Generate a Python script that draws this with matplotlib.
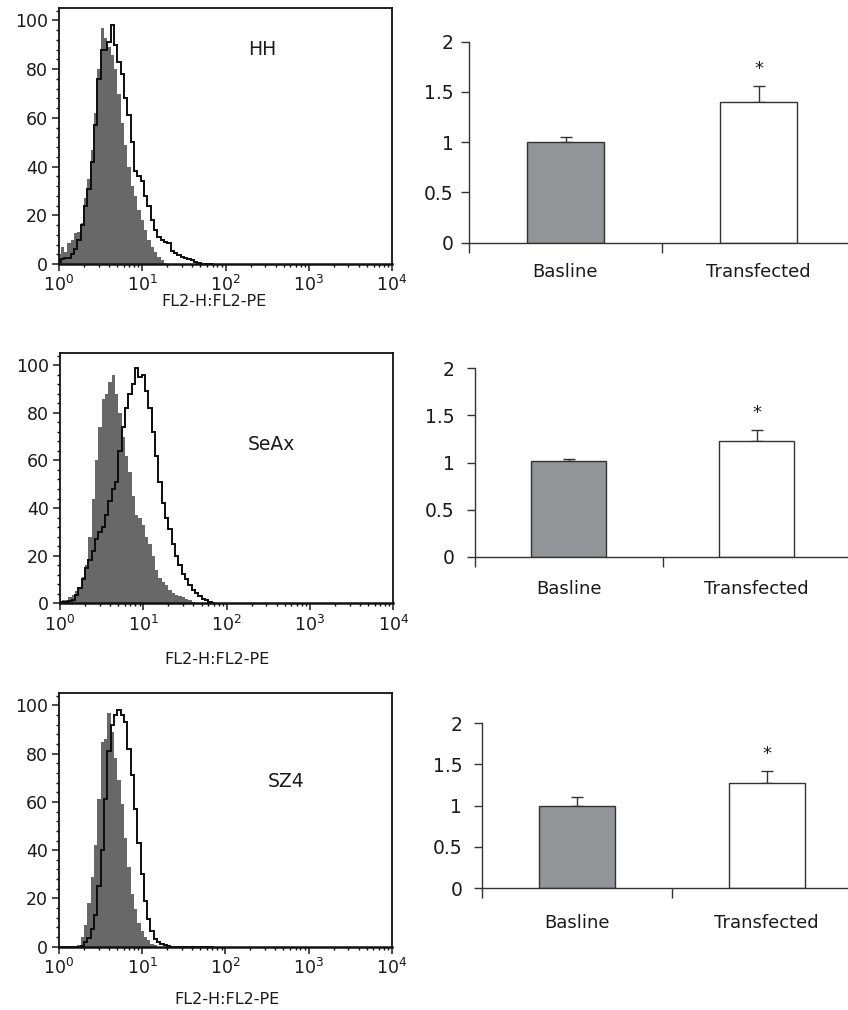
import numpy as np
import matplotlib
matplotlib.use("Agg")
import matplotlib.pyplot as plt
from matplotlib.ticker import FixedLocator, MultipleLocator, NullFormatter

plt.rcParams['font.family'] = ['DejaVu Sans']
plt.rcParams['mathtext.fontset'] = 'dejavusans'

# ---------------- data ----------------
# FL2-H channels (log10 of fluorescence)
channels = [0.00, 0.04, 0.08, 0.12, 0.16, 0.20, 0.24, 0.28, 0.32, 0.36,
            0.40, 0.44, 0.48, 0.52, 0.56, 0.60, 0.64, 0.68, 0.72, 0.76,
            0.80, 0.84, 0.88, 0.92, 0.96, 1.00, 1.04, 1.08, 1.12, 1.16,
            1.20, 1.24, 1.28, 1.32, 1.36, 1.40, 1.44, 1.48, 1.52, 1.56,
            1.60, 1.64, 1.68, 1.72, 1.76, 1.80, 1.84]

hh_baseline = [4, 7, 5, 8.5, 10, 12.6, 13, 17, 27, 35,
               47, 62, 80, 97, 93, 89, 86, 80, 70, 58,
               49, 40, 32, 28, 22, 18, 14, 10, 7, 5,
               3, 1.6, 0.5, 0, 0, 0, 0, 0, 0, 0,
               0, 0, 0, 0, 0, 0, 0]
hh_transfected = [1, 2, 2.3, 2.5, 4, 6, 10, 16, 24, 31,
                  42, 57, 76, 88, 88, 91, 98, 90, 83, 78,
                  68, 61, 50, 38, 36, 34, 28, 24, 18, 14,
                  11, 10, 9, 8.5, 5.5, 4.5, 3.5, 2.8, 2.3, 2,
                  1.5, 0.8, 0.3, 0, 0, 0, 0]

seax_baseline = [0.5, 1.2, 1.5, 2.5, 3.5, 5, 7, 11, 16, 28,
                 44, 60, 74, 86, 88, 93, 96, 88, 80, 70,
                 62, 55, 45, 37, 36, 33, 28, 25, 20, 14,
                 10.5, 9, 7.5, 5.5, 4.2, 3.3, 3, 2.5, 2, 1.3,
                 0.7, 0, 0, 0, 0, 0, 0]
seax_transfected = [0.5, 0.7, 0.7, 1, 1.5, 3.5, 6.5, 10, 15, 18,
                    22, 27, 30, 32, 37, 43, 48, 51, 64, 74,
                    82, 88, 92, 99, 95, 96, 89, 82, 72, 62,
                    51, 42, 36, 31, 25, 20, 16, 12.5, 10, 7.5,
                    5.5, 4.2, 3, 2, 1.2, 0.5, 0]

sz4_baseline = [0, 0, 0, 0, 0, 0, 0.5, 4, 9, 18,
                29, 42, 61, 85, 86, 97, 89, 78, 69, 59,
                45, 33, 22, 15.5, 10, 6.5, 4, 2.6, 1.3, 0.6,
                0, 0, 0, 0, 0, 0, 0, 0, 0, 0,
                0, 0, 0, 0, 0, 0, 0]
sz4_transfected = [0, 0, 0, 0, 0, 0, 0, 0.3, 1.8, 3.6,
                   7.5, 13, 25, 40, 61, 81, 92, 96, 98, 96,
                   93, 82, 71, 57, 43, 30, 19, 11.5, 6.5, 3.2,
                   1.9, 1.3, 0.7, 0.4, 0, 0, 0, 0, 0, 0,
                   0, 0, 0, 0, 0, 0, 0]

cell_lines = ["HH", "SeAx", "SZ4"]
groups = ["Basline", "Transfected"]
bar_means = [[1.00, 1.40], [1.02, 1.23], [1.00, 1.27]]
bar_errors = [[0.05, 0.16], [0.02, 0.11], [0.11, 0.15]]
significant = [[False, True], [False, True], [False, True]]

hist_yticks = [0, 20, 40, 60, 80, 100]
decade_exponents = [0, 1, 2, 3, 4]
bar_yticks = [0, 0.5, 1, 1.5, 2]
bar_yticklabels = ["0", "0.5", "1", "1.5", "2"]
xlabel_text = "FL2-H:FL2-PE"

hist_data = [(hh_baseline, hh_transfected),
             (seax_baseline, seax_transfected),
             (sz4_baseline, sz4_transfected)]

# ---------------- layout (pixels) ----------------
W, H = 848, 1010
fig = plt.figure(figsize=(W / 100, H / 100), dpi=100)

def rect(l, t, r, b):
    return [l / W, 1 - b / H, (r - l) / W, (b - t) / H]

hist_rects = [(59, 8.3, 392, 264), (60, 353.3, 393.3, 603.3), (59, 693.3, 391.7, 946.7)]
hist_name_pos = [(0.568, 0.84), (0.564, 0.637), (0.628, 0.65)]
hist_xlabel_y = [301, 660, 1000]
hist_xlabel_x = [214, 217, 227]
bar_rects = [(469, 41.7, 855, 242.7), (475, 368.3, 850.4, 556.7), (481.7, 723.3, 861.7, 888)]
bar_label_pad = [14.5, 16.5, 18.5]
bar_ytick_pad = [5, 8.5, 8]

text_color = "#1a1a1a"
fill_gray = "#686868"
bar_gray = "#939497"
axis_col = "#333333"

c = np.array(channels)
edges = 10 ** np.concatenate([c - 0.02, [c[-1] + 0.02]])

for i in range(3):
    ax = fig.add_axes(rect(*hist_rects[i]))
    base, trans = hist_data[i]
    ax.stairs(base, edges, fill=True, color=fill_gray, linewidth=0)
    ax.stairs(trans, edges, color="#0d0d0d", linewidth=1.4, baseline=None)
    ax.set_xscale("log")
    ax.set_xlim(1, 1e4)
    ax.set_ylim(0, 105)
    ax.set_yticks(hist_yticks)
    ax.yaxis.set_minor_locator(MultipleLocator(4))
    ax.set_xticks([10.0 ** e for e in decade_exponents])
    ax.set_xticklabels([r"$\mathregular{10^{%d}}$" % e for e in decade_exponents])
    ax.xaxis.set_minor_locator(FixedLocator(
        [m * 10.0 ** e for e in decade_exponents[:-1] for m in range(2, 10)]))
    ax.xaxis.set_minor_formatter(NullFormatter())
    ax.tick_params(axis="both", which="major", direction="out", length=5,
                   width=1.1, labelsize=12.5, colors=text_color, pad=3)
    ax.tick_params(axis="both", which="minor", direction="out", length=2.5,
                   width=1.0)
    for s in ax.spines.values():
        s.set_linewidth(1.3)
        s.set_color("#111111")
    ax.spines["bottom"].set_linewidth(1.8)
    ax.text(*hist_name_pos[i], cell_lines[i], transform=ax.transAxes,
            fontsize=13.5, color=text_color, ha="left", va="center")
    fig.text(hist_xlabel_x[i] / W, 1 - hist_xlabel_y[i] / H, xlabel_text,
             fontsize=11.5, color=text_color, ha="center", va="center")

for i in range(3):
    ax = fig.add_axes(rect(*bar_rects[i]))
    xpos = np.arange(len(groups))
    colors = [bar_gray, "white"]
    ax.bar(xpos, bar_means[i], width=0.4, color=colors, edgecolor=axis_col,
           linewidth=1.0, zorder=2)
    ax.errorbar(xpos, bar_means[i], yerr=[[0] * len(groups), bar_errors[i]],
                fmt="none", ecolor=axis_col, elinewidth=1.0, capsize=4,
                capthick=1.0, zorder=1)
    for j in range(len(groups)):
        if significant[i][j]:
            ax.annotate("*", (xpos[j], bar_means[i][j] + bar_errors[i][j]),
                        xytext=(0, 6), textcoords="offset points",
                        ha="center", va="bottom", fontsize=13, color=text_color)
    ax.set_xlim(-0.5, 1.5)
    ax.set_ylim(0, 2)
    ax.set_yticks(bar_yticks)
    ax.set_yticklabels(bar_yticklabels)
    ax.set_xticks([-0.5, 0.5, 1.5])
    ax.set_xticklabels([])
    ax.set_xticks(xpos, minor=True)
    ax.set_xticklabels(groups, minor=True)
    ax.tick_params(axis="x", which="major", direction="out", length=7,
                   width=1.0, color=axis_col)
    ax.tick_params(axis="x", which="minor", length=0, labelsize=13,
                   colors=text_color, pad=bar_label_pad[i])
    ax.tick_params(axis="y", which="major", direction="out", length=6,
                   width=1.0, color=axis_col, labelsize=13.5,
                   labelcolor=text_color, pad=bar_ytick_pad[i])
    for s in ["top", "right"]:
        ax.spines[s].set_visible(False)
    for s in ["left", "bottom"]:
        ax.spines[s].set_linewidth(1.0)
        ax.spines[s].set_color(axis_col)

fig.savefig("out.png", dpi=100)
